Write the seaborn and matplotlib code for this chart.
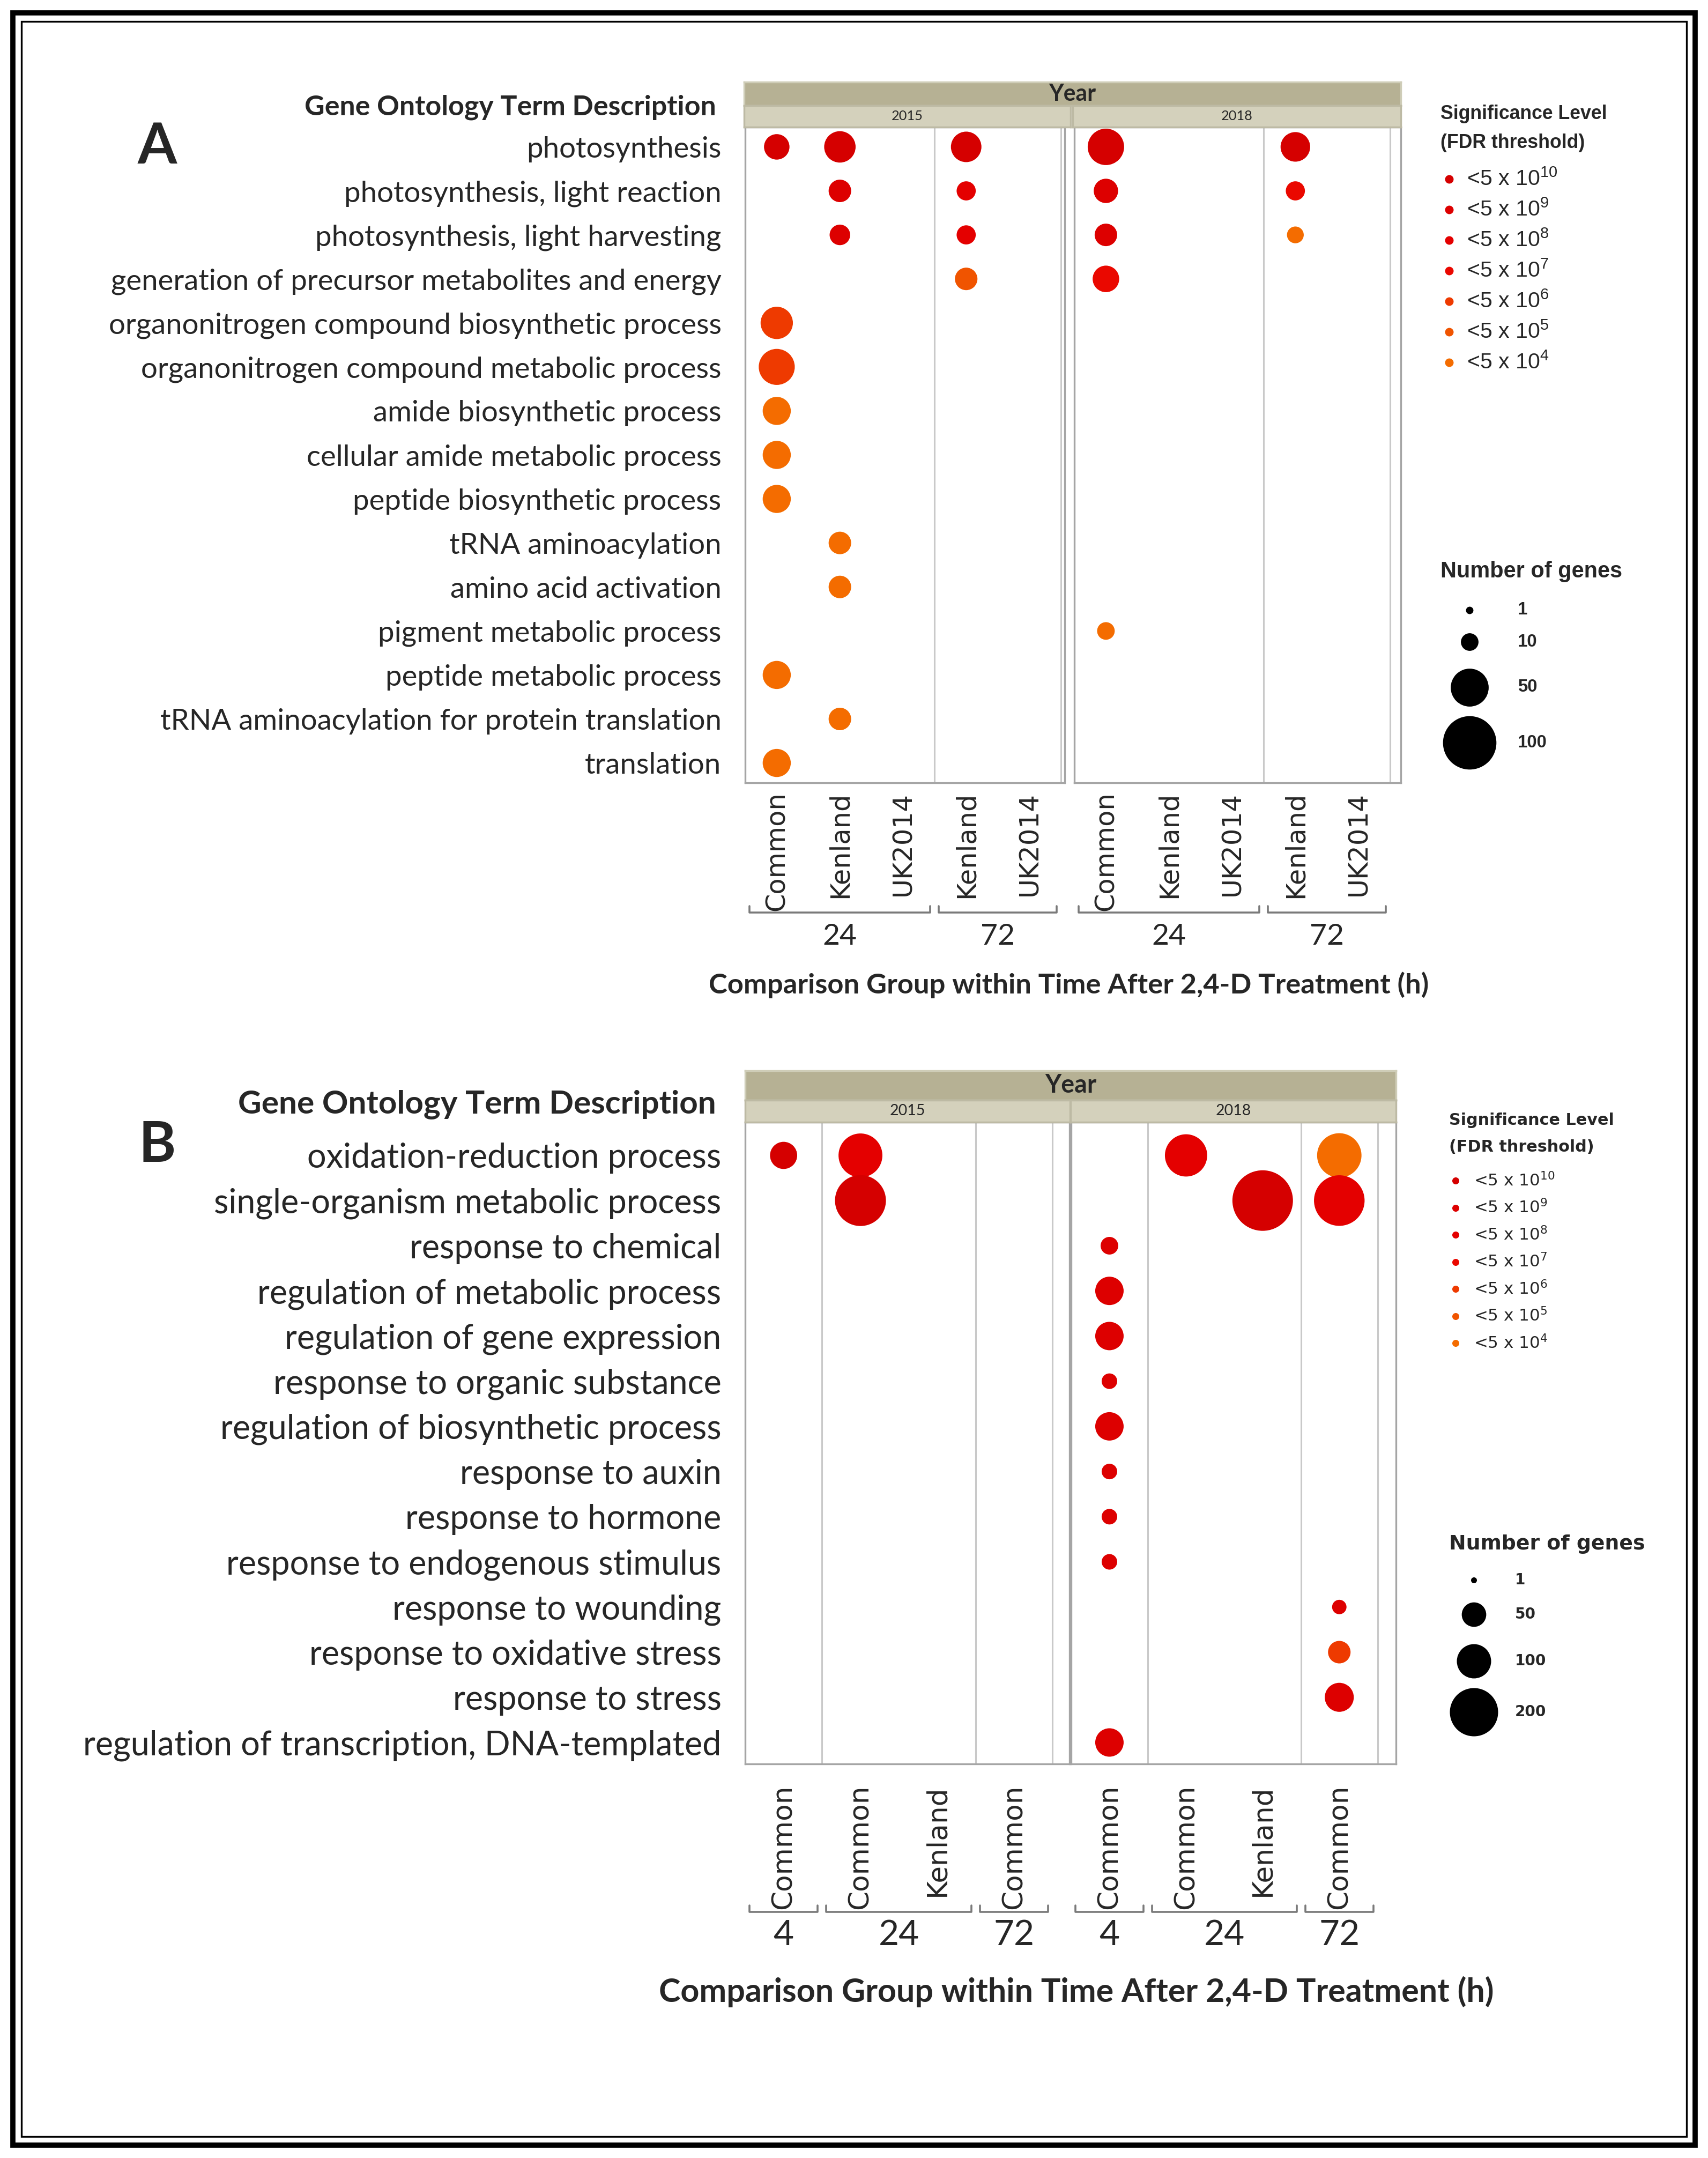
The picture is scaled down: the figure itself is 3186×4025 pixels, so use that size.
import numpy as np
import pandas as pd
import matplotlib
matplotlib.use("Agg")
import matplotlib.pyplot as plt
from matplotlib.patches import Rectangle
import seaborn as sns

W, H, DPI = 3186, 4025, 200

# ---------------- data ----------------
fdr_levels = [10, 9, 8, 7, 6, 5, 4]          # FDR < 5 x 10^-n
fdr_colors = ["#d50000", "#dd0000", "#e40000", "#ea0800", "#ee3a00", "#f05400", "#f46c00"]

# panel A
terms_a = ["photosynthesis", "photosynthesis, light reaction", "photosynthesis, light harvesting",
           "generation of precursor metabolites and energy", "organonitrogen compound biosynthetic process",
           "organonitrogen compound metabolic process", "amide biosynthetic process",
           "cellular amide metabolic process", "peptide biosynthetic process", "tRNA aminoacylation",
           "amino acid activation", "pigment metabolic process", "peptide metabolic process",
           "tRNA aminoacylation for protein translation", "translation"]
groups_a = ["24/Common", "24/Kenland", "24/UK2014", "72/Kenland", "72/UK2014"]
a_term = [0, 0, 0, 0, 0, 1, 1, 1, 1, 2, 2, 2, 2, 3, 3, 4, 5, 6, 7, 8, 9, 10, 11, 12, 13, 14]
a_year = [2015, 2015, 2015, 2018, 2018, 2015, 2015, 2018, 2018, 2015, 2015, 2018, 2018,
          2015, 2018, 2015, 2015, 2015, 2015, 2015, 2015, 2015, 2018, 2015, 2015, 2015]
a_group = ["24/Common", "24/Kenland", "72/Kenland", "24/Common", "72/Kenland",
           "24/Kenland", "72/Kenland", "24/Common", "72/Kenland",
           "24/Kenland", "72/Kenland", "24/Common", "72/Kenland",
           "72/Kenland", "24/Common",
           "24/Common", "24/Common", "24/Common", "24/Common", "24/Common",
           "24/Kenland", "24/Kenland", "24/Common", "24/Common", "24/Kenland", "24/Common"]
a_genes = [22, 34, 32, 46, 30, 17, 12, 20, 12, 14, 12, 17, 9, 17, 24, 36, 45, 27, 27, 27, 17, 17, 10, 27, 17, 27]
a_fdr = [10, 10, 10, 10, 10, 9, 8, 9, 7, 9, 8, 9, 4, 5, 7, 6, 6, 4, 4, 4, 4, 4, 4, 4, 4, 4]

# panel B
terms_b = ["oxidation-reduction process", "single-organism metabolic process", "response to chemical",
           "regulation of metabolic process", "regulation of gene expression", "response to organic substance",
           "regulation of biosynthetic process", "response to auxin", "response to hormone",
           "response to endogenous stimulus", "response to wounding", "response to oxidative stress",
           "response to stress", "regulation of transcription, DNA-templated"]
groups_b = ["4/Common", "24/Common", "24/Kenland", "72/Common"]
b_term = [0, 0, 0, 0, 1, 1, 1, 2, 3, 4, 5, 6, 7, 8, 9, 10, 11, 12, 13]
b_year = [2015, 2015, 2018, 2018, 2015, 2018, 2018] + [2018] * 12
b_group = ["4/Common", "24/Common", "24/Common", "72/Common", "24/Common", "24/Kenland", "72/Common"] \
    + ["4/Common"] * 8 + ["72/Common"] * 3 + ["4/Common"]
b_genes = [62, 165, 153, 169, 223, 316, 220, 25, 68, 68, 19, 68, 19, 19, 19, 16, 42, 71, 68]
b_fdr = [10, 8, 8, 4, 10, 10, 8, 9, 9, 9, 9, 9, 9, 9, 9, 9, 6, 9, 9]

size_legend_a = [1, 10, 50, 100]
size_legend_b = [1, 50, 100, 200]

# ---------------- figure ----------------
sns.set_theme(style="white")
plt.rcParams["font.family"] = ["Lato", "DejaVu Sans"]

fig = plt.figure(figsize=(W / DPI, H / DPI), dpi=DPI)
pal = dict(zip(fdr_levels, fdr_colors))


def rect(x0, y0, x1, y1):
    return [x0 / W, 1 - y1 / H, (x1 - x0) / W, (y1 - y0) / H]


def size_for(s, target, **kw):
    t = fig.text(0, 0, s, fontsize=20, **kw)
    w = t.get_window_extent(fig.canvas.get_renderer()).width
    t.remove()
    return 20 * target / w


def area(v, norm, sizes):
    return sizes[0] + (v - norm[0]) / (norm[1] - norm[0]) * (sizes[1] - sizes[0])


def panel(terms, groups, term, year, group, genes, fdr, body, facets, ylim, norm, sizes,
          term_w, tick_w, pad):
    df = pd.DataFrame({"term": term, "year": year, "group": group, "genes": genes, "fdr": fdr})
    df["x"] = pd.Categorical(df["group"], categories=groups).codes
    term_fs = size_for(max(terms, key=len), term_w)
    tick_fs = size_for("Common", tick_w, family="DejaVu Sans")
    times = [g.split("/")[0] for g in groups]
    axes = []
    for k, (yr, (x0, x1, xmax)) in enumerate(facets.items()):
        ax = fig.add_axes(rect(x0, body[0], x1, body[1]))
        sns.scatterplot(data=df[df["year"] == yr], x="x", y="term", hue="fdr", size="genes",
                        palette=pal, hue_order=fdr_levels, sizes=sizes, size_norm=norm,
                        linewidth=0, legend=False, ax=ax, zorder=3)
        ax.set_xlim(-0.5, xmax)
        ax.set_ylim(*ylim)
        for i in range(1, len(groups) + 1):
            if i == len(groups) or times[i] != times[i - 1]:
                ax.axvline(i - 0.5, color="#c9c9c9", lw=1.1, zorder=1)
        ax.set_xticks(range(len(groups)))
        ax.set_xticklabels([g.split("/")[1] for g in groups], rotation=90, va="top",
                           fontsize=tick_fs, family="DejaVu Sans")
        ax.set_yticks(range(len(terms)))
        if k == 0:
            ax.set_yticklabels(terms, fontsize=term_fs)
        else:
            ax.set_yticklabels([])
        ax.tick_params(length=0, pad=pad)
        ax.tick_params(axis="y", pad=16)
        ax.set_xlabel("")
        ax.set_ylabel("")
        for sp in ax.spines.values():
            sp.set_color("#a5a5a5")
            sp.set_linewidth(1.2)
        axes.append(ax)
    return axes


def strips(year_box, year_boxes, labels, year_w, lab_w):
    sax = fig.add_axes(rect(*year_box))
    sax.set_facecolor("#b6b194")
    sax.set_xticks([]); sax.set_yticks([])
    for sp in sax.spines.values():
        sp.set_color("#cfcdb8")
    sax.text(0.5, 0.5, "Year", ha="center", va="center", fontweight="bold",
             fontsize=size_for("Year", year_w, fontweight="bold"), transform=sax.transAxes)
    for box, lab in zip(year_boxes, labels):
        yax = fig.add_axes(rect(*box))
        yax.set_facecolor("#d4d1bc")
        yax.set_xticks([]); yax.set_yticks([])
        for sp in yax.spines.values():
            sp.set_color("#bdbaa4")
        yax.text(0.5, 0.5, lab, ha="center", va="center",
                 fontsize=size_for(lab, lab_w), transform=yax.transAxes)


# ---- panel A ----
axes_a = panel(terms_a, groups_a, a_term, a_year, a_group, a_genes, a_fdr,
               body=(237, 1460), facets={2015: (1390, 1986, 4.56), 2018: (2004, 2613, 4.67)},
               ylim=(14.45, -0.45), norm=(1, 100), sizes=(25, 1286),
               term_w=1138, tick_w=222, pad=6)
strips((1388, 153, 2613, 197), [(1388, 197, 1997, 237), (2001, 197, 2613, 237)],
       ["2015", "2018"], 88, 59)

# ---- panel B ----
axes_b = panel(terms_b, groups_b, b_term, b_year, b_group, b_genes, b_fdr,
               body=(2093, 3290), facets={2015: (1390, 1995, 3.72), 2018: (1998, 2604, 3.74)},
               ylim=(13.475, -0.736), norm=(1, 400), sizes=(15.7, 2089),
               term_w=1190, tick_w=232, pad=14)
strips((1390, 1997, 2604, 2052), [(1390, 2052, 1996, 2093), (1997, 2052, 2604, 2093)],
       ["2015", "2018"], 96, 66)

# ---------------- overlay for annotations ----------------
ov = fig.add_axes([0, 0, 1, 1], zorder=10)
ov.set_xlim(0, W)
ov.set_ylim(H, 0)
ov.axis("off")


def brackets(axes, groups, y_line, y_text, width):
    times = [g.split("/")[0] for g in groups]
    fs = size_for("24", width)
    for ax in axes:
        start = 0
        for i in range(1, len(times) + 1):
            if i == len(times) or times[i] != times[start]:
                xa = ax.transData.transform((start - 0.5, 0))[0] + 8
                xb = ax.transData.transform((i - 0.5, 0))[0] - 8
                ov.plot([xa, xa, xb, xb], [y_line - 12, y_line, y_line, y_line - 12],
                        color="#7a7a7a", lw=1.3)
                ov.text((xa + xb) / 2, y_text, times[start], ha="center", va="center", fontsize=fs)
                start = i


brackets(axes_a, groups_a, 1702, 1747, 64)
brackets(axes_b, groups_b, 3566, 3609, 76)

xlab = "Comparison Group within Time After 2,4-D Treatment (h)"
ov.text(1994, 1837, xlab, ha="center", va="center", fontweight="bold",
        fontsize=size_for(xlab, 1341, fontweight="bold"))
ov.text(2008, 3715, xlab, ha="center", va="center", fontweight="bold",
        fontsize=size_for(xlab, 1560, fontweight="bold"))

head = "Gene Ontology Term Description"
ov.text(1336, 200, head, ha="right", va="center", fontweight="bold",
        fontsize=size_for(head, 768, fontweight="bold"))
ov.text(1336, 2060, head, ha="right", va="center", fontweight="bold",
        fontsize=size_for(head, 891, fontweight="bold"))

ov.text(293, 275, "A", ha="center", va="center", fontweight="bold", fontsize=38)
ov.text(293, 2137, "B", ha="center", va="center", fontweight="bold", fontsize=38)


def legends(x_title, y_title, title_w, x_dot, x_txt, y0, dy, dot_s, txt_w, fam,
            y_size_title, size_title_w, x_sdot, x_slab, y_sizes, vals, norm, sizes, slab_w):
    tfs = size_for("Significance Level", title_w, fontweight="bold", family=fam)
    ov.text(x_title, y_title, "Significance Level", ha="left", va="center",
            fontweight="bold", fontsize=tfs, family=fam)
    ov.text(x_title, y_title + (51 if fam == "DejaVu Sans" else 54), "(FDR threshold)", ha="left",
            va="center", fontweight="bold", fontsize=tfs, family=fam)
    efs = size_for("<5 x 10", txt_w, family=fam)
    for i, lev in enumerate(fdr_levels):
        y = y0 + i * dy
        ov.scatter([x_dot], [y], s=dot_s, color=pal[lev], linewidth=0)
        ov.text(x_txt, y, r"<5 x 10$^{\mathregular{%d}}$" % lev, ha="left", va="center",
                fontsize=efs, family=fam)
    sfs = size_for("Number of genes", size_title_w, fontweight="bold", family=fam)
    ov.text(x_title, y_size_title, "Number of genes", ha="left", va="center",
            fontweight="bold", fontsize=sfs, family=fam)
    lfs = size_for(str(vals[-1]), slab_w, fontweight="bold", family=fam)
    for v, y in zip(vals, y_sizes):
        ov.scatter([x_sdot], [y], s=area(v, norm, sizes), color="black", linewidth=0)
        ov.text(x_slab, y, str(v), ha="left", va="center", fontweight="bold", fontsize=lfs, family=fam)


legends(2687, 213, 311, 2703, 2736, 334, 57, 33, 136, "Liberation Sans",
        1066, 339, 2741, 2831, [1138, 1197, 1282, 1385], size_legend_a, (1, 100), (25, 1286), 55)
legends(2703, 2089, 308, 2715, 2749, 2202, 50.5, 22, 123, "DejaVu Sans",
        2880, 365, 2749, 2826, [2947, 3011, 3098, 3193], size_legend_b, (1, 400), (15.7, 2089), 58)

# double frame round the whole figure
ov.add_patch(Rectangle((24, 24), W - 48, H - 48, fill=False, ec="black", lw=3.5))
ov.add_patch(Rectangle((40, 40), W - 80, H - 80, fill=False, ec="black", lw=1.2))

fig.savefig("out.png", dpi=DPI, facecolor="white")
